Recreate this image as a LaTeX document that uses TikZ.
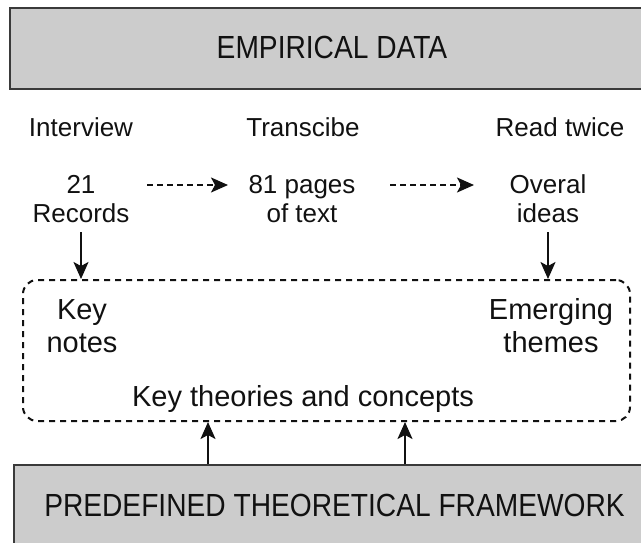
\documentclass[tikz,border=0pt]{standalone}
\usepackage{fontspec}
\setmainfont{Liberation Sans}
\newfontfamily\capsfont{Liberation Sans}[FakeStretch=0.88]
\usetikzlibrary{arrows.meta}
\definecolor{boxgray}{HTML}{CCCCCC}
\definecolor{boxline}{HTML}{3A3A3A}
\definecolor{ink}{HTML}{111111}
\begin{document}
\begin{tikzpicture}[x=1pt,y=-1pt,
  lbl/.style={inner sep=0pt, align=center, anchor=base, font=\fontsize{26}{29}\selectfont, text=ink},
  inbox/.style={inner sep=0pt, align=center, anchor=base, font=\fontsize{29}{33}\selectfont, text=ink},
  caps/.style={inner sep=0pt, anchor=base, font=\capsfont\fontsize{32}{36}\selectfont, text=ink},
  graybox/.style={fill=boxgray, draw=boxline, line width=2.4pt, inner sep=0pt, anchor=north west},
  solidarr/.style={-{Stealth[length=17pt,width=15pt,inset=4pt]}, line width=2pt, draw=ink},
  dasharr/.style={solidarr, dash pattern=on 6pt off 4pt},
  framebox/.style={draw=ink, line width=2pt, dash pattern=on 6pt off 5pt, rounded corners=14pt, inner sep=0pt}]

\useasboundingbox (0,0) rectangle (641,542);

% top box
\node[graybox, minimum width=660pt, minimum height=81pt] (topbox) at (9,7) {};
\node[caps] (empirical) at (332,58) {EMPIRICAL DATA};

% step labels
\node[lbl] (interview) at (81,136) {Interview};
\node[lbl] (transcribe) at (303,136) {Transcibe};
\node[lbl] (readtwice) at (560,136) {Read twice};

% results (anchor base = last line)
\node[lbl] (rec) at (81,222) {21\\Records};
\node[lbl] (pages) at (302,222) {81 pages\\of text};
\node[lbl] (ideas) at (548,222) {Overal\\ideas};

% dashed frame
\node[framebox, minimum width=607pt, minimum height=141pt] (dbox) at (326.5,350.5) {};
\node[inbox] (keynotes) at (82,352) {Key\\notes};
\node[inbox] (themes) at (551,352) {Emerging\\themes};
\node[inbox] (concepts) at (303,406) {Key theories and concepts};

% bottom box
\node[graybox, minimum width=660pt, minimum height=100pt] (fw) at (13,464) {};
\node[caps] (framework) at (334.5,516) {PREDEFINED THEORETICAL FRAMEWORK};

% connectors
\draw[dasharr] (147,185) coordinate (a1s) -- (228,185) coordinate (a1e);
\draw[dasharr] (390,185) coordinate (a2s) -- (474,185) coordinate (a2e);
\draw[solidarr, shorten <=10pt] (rec.south) -- (rec.south |- dbox.north);
\draw[solidarr, shorten <=10pt] (ideas.south) -- (ideas.south |- dbox.north);
\coordinate (u1) at (208,464);
\coordinate (u2) at (405,464);
\draw[solidarr] (u1) -- (u1 |- dbox.south);
\draw[solidarr] (u2) -- (u2 |- dbox.south);
\end{tikzpicture}
\end{document}
